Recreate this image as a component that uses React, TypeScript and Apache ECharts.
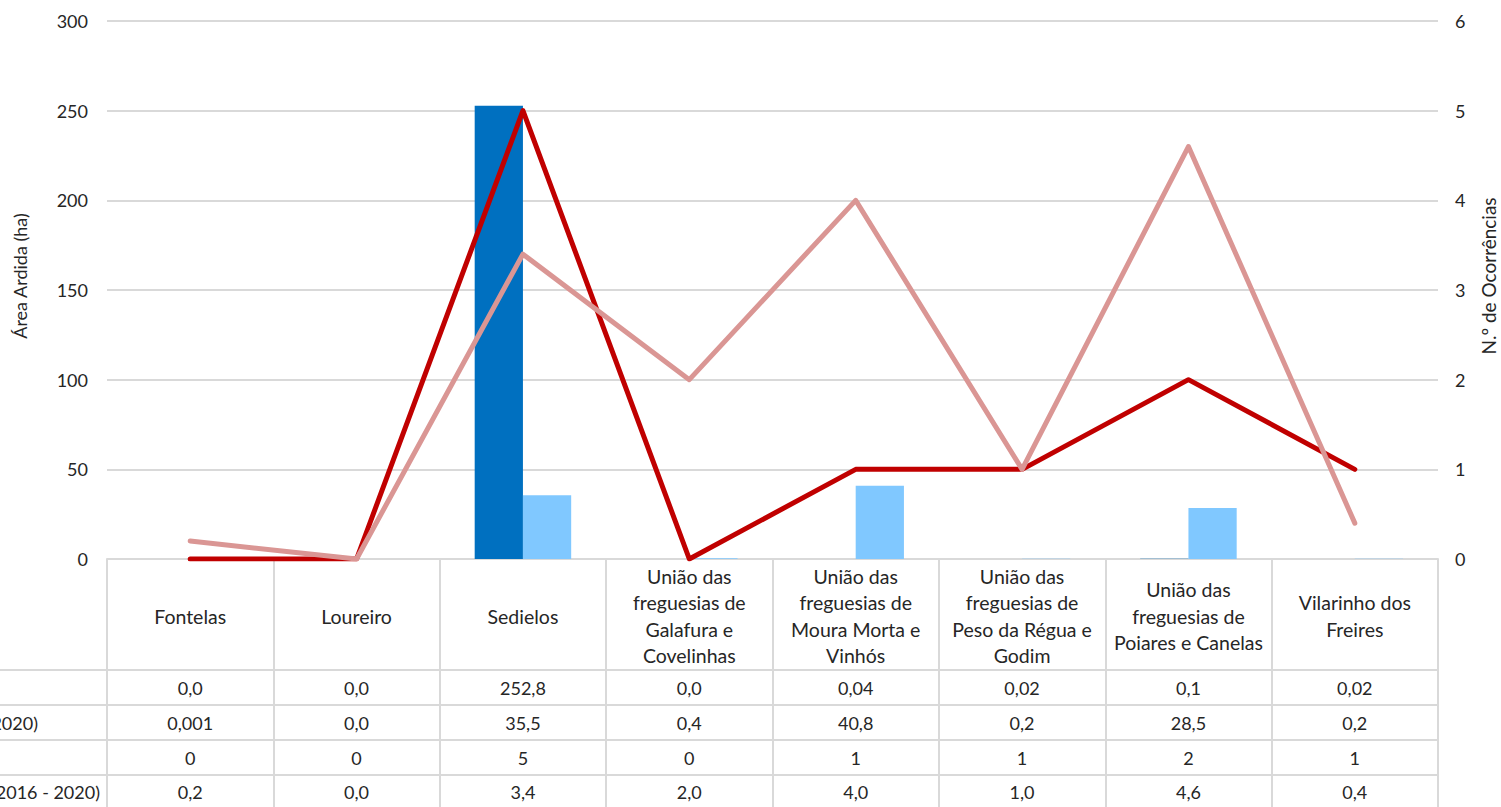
import React, { useEffect, useRef } from "react";
import * as echarts from "echarts";

const categories = [
  "Fontelas",
  "Loureiro",
  "Sedielos",
  "União das\nfreguesias de\nGalafura e\nCovelinhas",
  "União das\nfreguesias de\nMoura Morta e\nVinhós",
  "União das\nfreguesias de\nPeso da Régua e\nGodim",
  "União das\nfreguesias de\nPoiares e Canelas",
  "Vilarinho dos\nFreires",
];

const seriesNames = [
  "Área Ardida (2021)",
  "Área Ardida média (2016 - 2020)",
  "N.º de Ocorrências (2021)",
  "N.º de Ocorrências média (2016 - 2020)",
];

const areaArdida2021 = [0, 0, 252.8, 0, 0.04, 0.02, 0.1, 0.02];
const areaArdidaMedia = [0.001, 0, 35.5, 0.4, 40.8, 0.2, 28.5, 0.2];
const ocorrencias2021 = [0, 0, 5, 0, 1, 1, 2, 1];
const ocorrenciasMedia = [0.2, 0, 3.4, 2, 4, 1, 4.6, 0.4];

const leftTicks = { min: 0, max: 300, interval: 50 };
const rightTicks = { min: 0, max: 6, interval: 1 };

const minDecimals = [1, 1, 0, 1];

function fmt(v: number, minDec: number): string {
  let s = String(v);
  if (minDec > 0) {
    const parts = s.split(".");
    const dec = parts[1] || "";
    s = parts[0] + "." + dec.padEnd(minDec, "0");
  }
  return s.replace(".", ",");
}

// layout constants
const W = 1501;
const H = 807;
const GRID_LEFT = 107;
const GRID_RIGHT = 63;
const GRID_TOP = 21;
const AXIS_Y = 559;
const ROW_LINES = [670, 705, 740, 775];
const ROW_CENTERS = [687.5, 722.5, 757.5, 792];
const FONT = "Lato, 'Open Sans', sans-serif";
const GRID_COLOR = "#D9D9D9";
const TEXT_COLOR = "#262626";

export default function App() {
  const ref = useRef<HTMLDivElement>(null);

  useEffect(() => {
    if (!ref.current) return;
    const chart = echarts.init(ref.current, undefined, { renderer: "svg" });
    const rows = [areaArdida2021, areaArdidaMedia, ocorrencias2021, ocorrenciasMedia];

    const rowAxes = rows.map((arr, r) => ({
      type: "category" as const,
      gridIndex: 0,
      position: "bottom" as const,
      offset: ROW_CENTERS[r] - AXIS_Y,
      data: categories,
      axisLine: { show: false },
      axisTick: { show: false },
      splitLine: { show: false },
      axisLabel: {
        interval: 0,
        margin: 0,
        verticalAlign: "middle" as const,
        fontFamily: FONT,
        fontSize: 18,
        color: TEXT_COLOR,
        formatter: (_v: string, i: number) => fmt(arr[i], minDecimals[r]),
      },
    }));

    const graphics: any[] = [];
    ROW_LINES.forEach((y) => {
      graphics.push({
        type: "line",
        shape: { x1: 0, y1: y, x2: W - GRID_RIGHT + 1, y2: y },
        style: { stroke: GRID_COLOR, lineWidth: 2 },
        silent: true,
      });
    });
    // row labels of the data table (clipped at the left edge, as in the reference)
    const labelEnds = [-20, 38, -20, 100];
    seriesNames.forEach((n, r) => {
      if (labelEnds[r] < 0) return;
      graphics.push({
        type: "text",
        x: labelEnds[r],
        y: ROW_CENTERS[r],
        style: {
          text: n,
          textAlign: "right",
          textVerticalAlign: "middle",
          font: `18px ${FONT}`,
          fill: TEXT_COLOR,
        },
      });
    });
    graphics.push({
      type: "text",
      x: 20,
      y: 276,
      rotation: Math.PI / 2,
      style: {
        text: "Área Ardida (ha)",
        textAlign: "center",
        textVerticalAlign: "middle",
        font: `18px ${FONT}`,
        fill: TEXT_COLOR,
      },
    });
    graphics.push({
      type: "text",
      x: 1488,
      y: 276,
      rotation: Math.PI / 2,
      style: {
        text: "N.º de Ocorrências",
        textAlign: "center",
        textVerticalAlign: "middle",
        font: `19px ${FONT}`,
        fill: TEXT_COLOR,
      },
    });

    chart.setOption({
      animation: false,
      backgroundColor: "#ffffff",
      textStyle: { fontFamily: FONT },
      grid: [
        { left: GRID_LEFT, right: GRID_RIGHT, top: GRID_TOP, bottom: H - AXIS_Y },
        { left: GRID_LEFT, right: GRID_RIGHT, top: AXIS_Y, bottom: -2 },
      ],
      xAxis: [
        {
          type: "category",
          gridIndex: 0,
          data: categories,
          axisLine: { lineStyle: { color: GRID_COLOR, width: 2 } },
          axisTick: { show: false },
          axisLabel: {
            interval: 0,
            margin: 57,
            verticalAlign: "middle",
            align: "center",
            lineHeight: 26.5,
            fontFamily: FONT,
            fontSize: 19.5,
            color: TEXT_COLOR,
          },
        },
        ...rowAxes,
        {
          type: "category",
          gridIndex: 1,
          data: categories,
          axisLine: { show: false },
          axisTick: { show: false },
          axisLabel: { show: false },
          splitLine: { show: true, interval: 0, lineStyle: { color: GRID_COLOR, width: 2 } },
        },
      ],
      yAxis: [
        {
          type: "value",
          gridIndex: 0,
          min: leftTicks.min,
          max: leftTicks.max,
          interval: leftTicks.interval,
          axisLine: { show: false },
          axisTick: { show: false },
          axisLabel: { margin: 19, fontFamily: FONT, fontSize: 18, color: TEXT_COLOR },
          splitLine: { lineStyle: { color: GRID_COLOR, width: 2 } },
        },
        {
          type: "value",
          gridIndex: 0,
          position: "right",
          min: rightTicks.min,
          max: rightTicks.max,
          interval: rightTicks.interval,
          axisLine: { show: false },
          axisTick: { show: false },
          axisLabel: { margin: 17, fontFamily: FONT, fontSize: 18, color: TEXT_COLOR },
          splitLine: { show: false },
        },
        {
          type: "value",
          gridIndex: 1,
          show: false,
        },
      ],
      series: [
        {
          name: seriesNames[0],
          type: "bar",
          xAxisIndex: 0,
          yAxisIndex: 0,
          data: areaArdida2021,
          itemStyle: { color: "#0070C0" },
          barGap: "0%",
          barCategoryGap: "42%",
        },
        {
          name: seriesNames[1],
          type: "bar",
          xAxisIndex: 0,
          yAxisIndex: 0,
          data: areaArdidaMedia,
          itemStyle: { color: "#80C8FF" },
          barGap: "0%",
          barCategoryGap: "42%",
        },
        {
          name: seriesNames[2],
          type: "line",
          xAxisIndex: 0,
          yAxisIndex: 1,
          data: ocorrencias2021,
          symbol: "none",
          lineStyle: { color: "#C00000", width: 5, cap: "round", join: "round" },
          itemStyle: { color: "#C00000" },
        },
        {
          name: seriesNames[3],
          type: "line",
          xAxisIndex: 0,
          yAxisIndex: 1,
          data: ocorrenciasMedia,
          symbol: "none",
          lineStyle: { color: "#DA9694", width: 5, cap: "round", join: "round" },
          itemStyle: { color: "#DA9694" },
        },
      ],
      graphic: graphics,
    });

    return () => chart.dispose();
  }, []);

  return (
    <div
      ref={ref}
      style={{ position: "absolute", left: 0, top: 0, width: W, height: H }}
    />
  );
}
